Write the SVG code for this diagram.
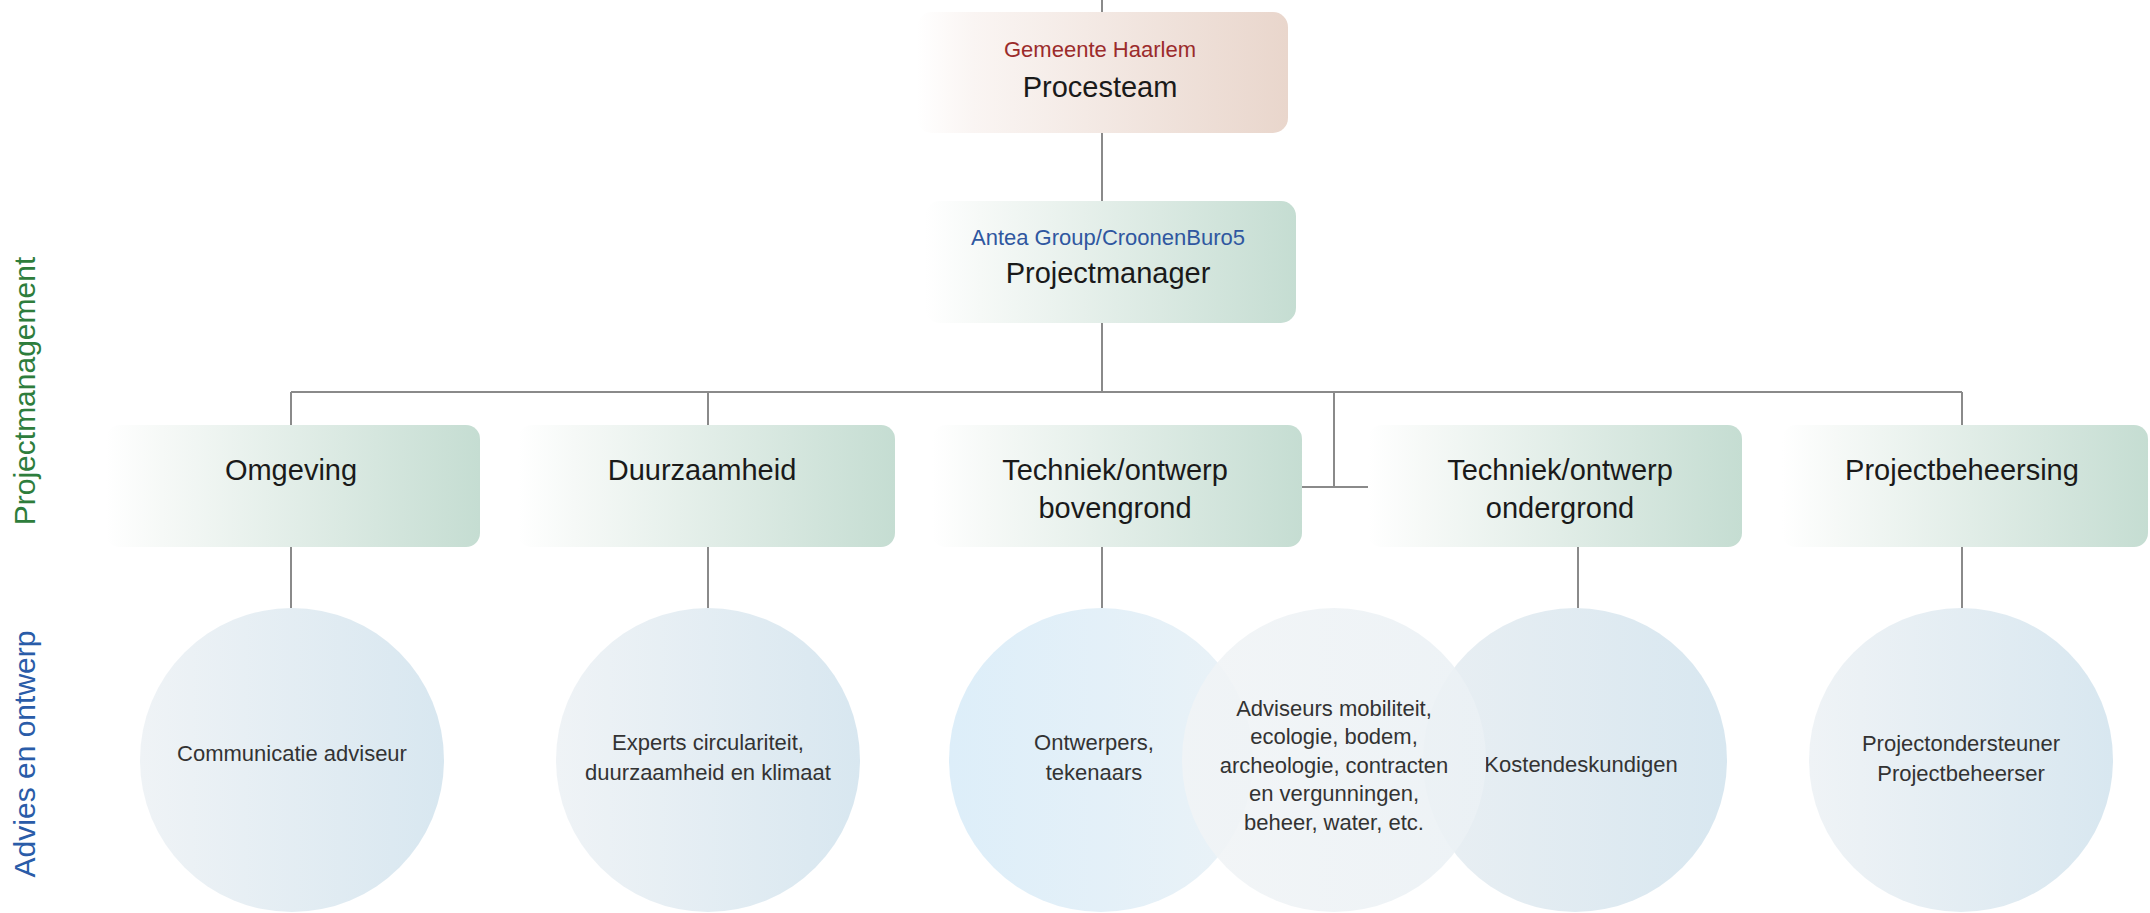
<svg xmlns="http://www.w3.org/2000/svg" width="2150" height="913" viewBox="0 0 2150 913">
  <defs>
    <linearGradient id="gGreen" x1="0" y1="0" x2="1" y2="0">
      <stop offset="0" stop-color="#ffffff"/>
      <stop offset="0.15" stop-color="#f6f9f7"/>
      <stop offset="1" stop-color="#c5ddd2"/>
    </linearGradient>
    <linearGradient id="gRed" x1="0" y1="0" x2="1" y2="0">
      <stop offset="0" stop-color="#ffffff"/>
      <stop offset="0.15" stop-color="#faf5f3"/>
      <stop offset="1" stop-color="#e9d6cc"/>
    </linearGradient>
    <linearGradient id="gCirc" x1="0" y1="0" x2="1" y2="0">
      <stop offset="0" stop-color="#eff3f6"/>
      <stop offset="1" stop-color="#d8e7f0"/>
    </linearGradient>
    <linearGradient id="gCircBlue" x1="0" y1="0" x2="1" y2="0">
      <stop offset="0" stop-color="#ddeef9"/>
      <stop offset="1" stop-color="#eaf2f7"/>
    </linearGradient>
    <linearGradient id="gCircMid" x1="0" y1="0" x2="1" y2="0">
      <stop offset="0" stop-color="#f1f4f6"/>
      <stop offset="1" stop-color="#ebf1f5"/>
    </linearGradient>
    <linearGradient id="gCircRight" x1="0" y1="0" x2="1" y2="0">
      <stop offset="0" stop-color="#e9eff3"/>
      <stop offset="1" stop-color="#d8e7f0"/>
    </linearGradient>
  </defs>
  <style>
    .conn { stroke: #8a8a8a; stroke-width: 2; fill: none; }
    .hdr { font-family: "Liberation Sans", Arial, sans-serif; font-size: 29px; fill: #1a1a1a; text-anchor: middle; }
    .sub { font-family: "Liberation Sans", Arial, sans-serif; font-size: 22px; text-anchor: middle; }
    .ctx { font-family: "Liberation Sans", Arial, sans-serif; font-size: 22px; fill: #333333; text-anchor: middle; }
    .side { font-family: "Liberation Sans", Arial, sans-serif; font-size: 30px; text-anchor: middle; }
  </style>
  <rect width="2150" height="913" fill="#ffffff"/>

  <g id="connectors">
    <line class="conn" x1="1102" y1="0" x2="1102" y2="12"/>
    <line class="conn" x1="1102" y1="133" x2="1102" y2="201"/>
    <line class="conn" x1="1102" y1="323" x2="1102" y2="392"/>
    <line class="conn" x1="291" y1="392" x2="1962" y2="392"/>
    <line class="conn" x1="291" y1="392" x2="291" y2="425"/>
    <line class="conn" x1="708" y1="392" x2="708" y2="425"/>
    <line class="conn" x1="1334" y1="392" x2="1334" y2="487"/>
    <line class="conn" x1="1302" y1="487" x2="1368" y2="487"/>
    <line class="conn" x1="1962" y1="392" x2="1962" y2="425"/>
    <line class="conn" x1="291" y1="547" x2="291" y2="608"/>
    <line class="conn" x1="708" y1="547" x2="708" y2="608"/>
    <line class="conn" x1="1102" y1="547" x2="1102" y2="608"/>
    <line class="conn" x1="1578" y1="547" x2="1578" y2="608"/>
    <line class="conn" x1="1962" y1="547" x2="1962" y2="608"/>
  </g>

  <g id="side-labels">
    <text class="side" fill="#2e7d3c" transform="translate(35,391) rotate(-90)">Projectmanagement</text>
    <text class="side" fill="#2a5ca8" transform="translate(35,754) rotate(-90)">Advies en ontwerp</text>
  </g>

  <g id="procesteam">
    <rect x="917" y="12" width="371" height="121" rx="15" fill="url(#gRed)"/>
    <text class="sub" x="1100" y="57" fill="#9b2b2b">Gemeente Haarlem</text>
    <text class="hdr" x="1100" y="97">Procesteam</text>
  </g>

  <g id="projectmanager">
    <rect x="925" y="201" width="371" height="122" rx="15" fill="url(#gGreen)"/>
    <text class="sub" x="1108" y="245" fill="#2f57a0">Antea Group/CroonenBuro5</text>
    <text class="hdr" x="1108" y="283">Projectmanager</text>
  </g>

  <g id="omgeving">
    <rect x="106" y="425" width="374" height="122" rx="14" fill="url(#gGreen)"/>
    <text class="hdr" x="291" y="480">Omgeving</text>
  </g>

  <g id="duurzaamheid">
    <rect x="518" y="425" width="377" height="122" rx="14" fill="url(#gGreen)"/>
    <text class="hdr" x="702" y="480">Duurzaamheid</text>
  </g>

  <g id="techniek-bovengrond">
    <rect x="932" y="425" width="370" height="122" rx="14" fill="url(#gGreen)"/>
    <text class="hdr" x="1115" y="480">Techniek/ontwerp</text>
    <text class="hdr" x="1115" y="518">bovengrond</text>
  </g>

  <g id="techniek-ondergrond">
    <rect x="1368" y="425" width="374" height="122" rx="14" fill="url(#gGreen)"/>
    <text class="hdr" x="1560" y="480">Techniek/ontwerp</text>
    <text class="hdr" x="1560" y="518">ondergrond</text>
  </g>

  <g id="projectbeheersing">
    <rect x="1782" y="425" width="366" height="122" rx="14" fill="url(#gGreen)"/>
    <text class="hdr" x="1962" y="480">Projectbeheersing</text>
  </g>

  <g id="communicatie">
    <circle cx="292" cy="760" r="152" fill="url(#gCirc)"/>
    <text class="ctx" x="292" y="761">Communicatie adviseur</text>
  </g>

  <g id="experts">
    <circle cx="708" cy="760" r="152" fill="url(#gCirc)"/>
    <text class="ctx" x="708" y="750">Experts circulariteit,</text>
    <text class="ctx" x="708" y="780">duurzaamheid en klimaat</text>
  </g>

  <g id="ontwerpers">
    <circle cx="1101" cy="760" r="152" fill="url(#gCircBlue)"/>
    <text class="ctx" x="1094" y="750">Ontwerpers,</text>
    <text class="ctx" x="1094" y="780">tekenaars</text>
  </g>

  <g id="kosten">
    <circle cx="1575" cy="760" r="152" fill="url(#gCircRight)"/>
    <text class="ctx" x="1581" y="772">Kostendeskundigen</text>
  </g>

  <g id="adviseurs">
    <circle cx="1334" cy="760" r="152" fill="url(#gCircMid)" fill-opacity="0.9"/>
    <text class="ctx" x="1334" y="716">Adviseurs mobiliteit,</text>
    <text class="ctx" x="1334" y="744">ecologie, bodem,</text>
    <text class="ctx" x="1334" y="773">archeologie, contracten</text>
    <text class="ctx" x="1334" y="801">en vergunningen,</text>
    <text class="ctx" x="1334" y="830">beheer, water, etc.</text>
  </g>

  <g id="projectondersteuner">
    <circle cx="1961" cy="760" r="152" fill="url(#gCirc)"/>
    <text class="ctx" x="1961" y="751">Projectondersteuner</text>
    <text class="ctx" x="1961" y="781">Projectbeheerser</text>
  </g>
</svg>
